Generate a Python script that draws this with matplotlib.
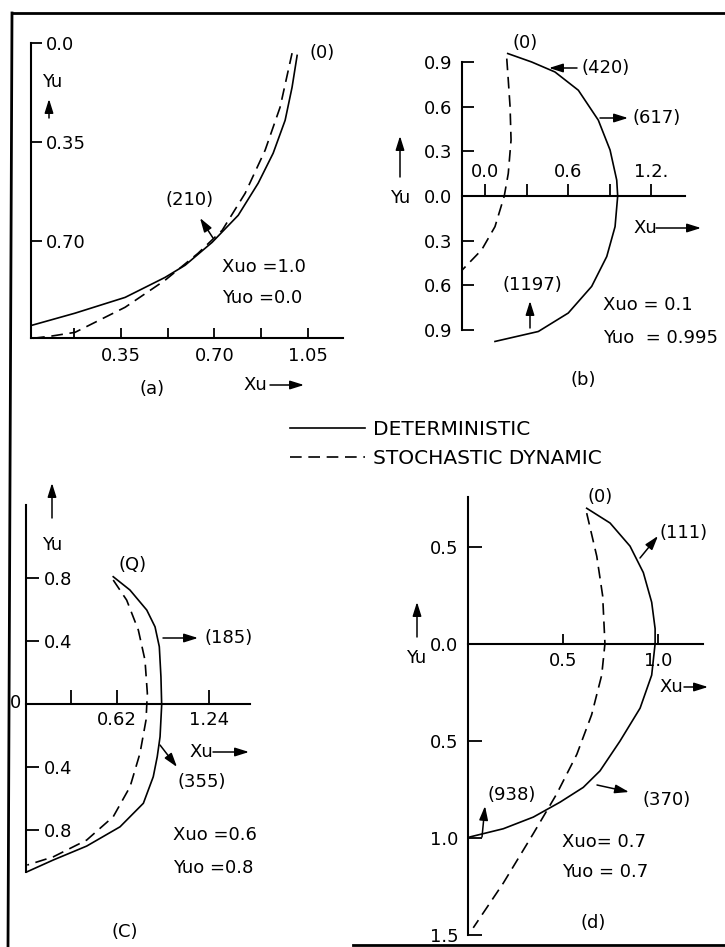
import matplotlib
matplotlib.use('Agg')
import matplotlib.pyplot as plt
from matplotlib.lines import Line2D
from matplotlib.patches import FancyArrowPatch

W, H = 725, 947

# (a)  Xuo = 1.0, Yuo = 0.0   (Yu drawn downward, stored negative)
a_det_x = [0.015, 0.177, 0.365, 0.515, 0.590, 0.691, 0.789, 0.864, 0.920, 0.965, 0.991, 1.010]
a_det_y = [-1.000, -0.957, -0.901, -0.830, -0.787, -0.706, -0.610, -0.496, -0.390, -0.273, -0.156, -0.043]
a_sto_x = [0.020, 0.090, 0.177, 0.365, 0.515, 0.638, 0.729, 0.815, 0.890, 0.946, 0.991]
a_sto_y = [-1.046, -1.038, -1.025, -0.936, -0.840, -0.745, -0.663, -0.532, -0.379, -0.227, -0.035]
a_xticks = [0.175, 0.35, 0.525, 0.70, 0.875, 1.05]
a_xlabels = ['', '0.35', '', '0.70', '', '1.05']
a_yticks = [0.0, -0.35, -0.70]
a_ylabels = ['0.0', '0.35', '0.70']

# (b)  Xuo = 0.1, Yuo = 0.995
b_det_x = [0.164, 0.337, 0.505, 0.674, 0.818, 0.903, 0.951, 0.958, 0.939, 0.879, 0.770, 0.601, 0.385, 0.072]
b_det_y = [0.958, 0.901, 0.834, 0.711, 0.510, 0.309, 0.107, 0.0, -0.206, -0.407, -0.608, -0.787, -0.911, -0.978]
b_sto_x = [0.157, 0.168, 0.181, 0.188, 0.168, 0.139, 0.072, -0.024, -0.164]
b_sto_y = [0.924, 0.779, 0.599, 0.376, 0.152, 0.0, -0.206, -0.362, -0.497]
b_xticks = [0.0, 0.3, 0.6, 0.9, 1.2]
b_xlabels = ['0.0', '', '0.6', '', '1.2.']
b_yticks = [0.9, 0.6, 0.3, 0.0, -0.3, -0.6, -0.9]
b_ylabels = ['0.9', '0.6', '0.3', '0.0', '0.3', '0.6', '0.9']

# (c)  Xuo = 0.6, Yuo = 0.8
c_det_x = [0.594, 0.707, 0.821, 0.877, 0.906, 0.917, 0.922, 0.911, 0.892, 0.865, 0.798, 0.640, 0.414, 0.188, 0.012]
c_det_y = [0.806, 0.722, 0.595, 0.489, 0.363, 0.173, -0.006, -0.207, -0.333, -0.460, -0.628, -0.777, -0.899, -0.987, -1.061]
c_sto_x = [0.594, 0.685, 0.764, 0.809, 0.825, 0.816, 0.775, 0.708, 0.594, 0.414, 0.188, 0.012]
c_sto_y = [0.785, 0.658, 0.468, 0.278, 0.068, -0.101, -0.312, -0.523, -0.713, -0.861, -0.967, -1.019]
c_xticks = [0.31, 0.62, 1.24]
c_xlabels = ['', '0.62', '1.24']
c_yticks = [0.8, 0.4, -0.4, -0.8]
c_ylabels = ['0.8', '0.4', '0.4', '0.8']

# (d)  Xuo = 0.7, Yuo = 0.7
d_det_x = [0.623, 0.746, 0.851, 0.921, 0.965, 0.983, 0.983, 0.965, 0.904, 0.798, 0.693, 0.605, 0.483, 0.342, 0.184, 0.009]
d_det_y = [0.697, 0.621, 0.502, 0.366, 0.213, 0.077, 0.0, -0.162, -0.332, -0.502, -0.655, -0.740, -0.816, -0.893, -0.953, -0.995]
d_sto_x = [0.623, 0.676, 0.707, 0.719, 0.702, 0.649, 0.571, 0.465, 0.342, 0.184, 0.026]
d_sto_y = [0.672, 0.450, 0.246, 0.0, -0.162, -0.366, -0.570, -0.774, -0.978, -1.233, -1.463]
d_xticks = [0.5, 1.0]
d_xlabels = ['0.5', '1.0']
d_yticks = [0.5, 0.0, -0.5, -1.0, -1.5]
d_ylabels = ['0.5', '0.0', '0.5', '1.0', '1.5']

plt.rcParams['font.family'] = ['DejaVu Sans']
plt.rcParams['font.size'] = 13

fig = plt.figure(figsize=(W / 100, H / 100), dpi=100)


def pt(px):
    return px * 0.72


def panel(xlim, xpix, ylim, ypix):
    # xpix = (left, right), ypix = (bottom, top) in image pixels from top-left
    ax = fig.add_axes([xpix[0] / W, 1 - ypix[0] / H,
                       (xpix[1] - xpix[0]) / W, (ypix[0] - ypix[1]) / H])
    ax.set_xlim(xlim)
    ax.set_ylim(ylim)
    ax.patch.set_visible(False)
    for s in ax.spines.values():
        s.set_visible(False)
        s.set_linewidth(1.5)
    return ax


def curves(ax, dx, dy, sx, sy):
    d, = ax.plot(dx, dy, color='black', lw=1.2, clip_on=False, label='DETERMINISTIC')
    s, = ax.plot(sx, sy, color='black', lw=1.2, dashes=(7, 4), clip_on=False,
                 label='STOCHASTIC DYNAMIC')
    return d, s


def txt(x, y, s, **kw):
    kw.setdefault('ha', 'center')
    kw.setdefault('va', 'center')
    fig.text(x / W, 1 - y / H, s, **kw)


def arrow(x0, y0, x1, y1):
    fig.add_artist(FancyArrowPatch((x0 / W, 1 - y0 / H), (x1 / W, 1 - y1 / H),
                                   transform=fig.transFigure,
                                   arrowstyle='-|>,head_length=0.7,head_width=0.22',
                                   mutation_scale=12, lw=1.1, color='black',
                                   shrinkA=0, shrinkB=0))


# ---------------- (a)
ax = panel((0.012, 1.182), (31, 343), (-1.045, 0.001), (338, 43))
ax.spines['left'].set_visible(True)
ax.spines['bottom'].set_visible(True)
h_det, h_sto = curves(ax, a_det_x, a_det_y, a_sto_x, a_sto_y)
ax.set_xticks(a_xticks, a_xlabels)
ax.set_yticks(a_yticks, a_ylabels)
ax.tick_params(direction='in', width=1.3)
ax.tick_params(axis='x', length=pt(10), pad=pt(9))
ax.tick_params(axis='y', length=pt(11), pad=-pt(15))
for lab in ax.get_yticklabels():
    lab.set_ha('left')

txt(322, 53, '(0)')
txt(190, 200, '(210)')
arrow(213, 238, 200, 218)
txt(222, 267, 'Xuo =1.0', ha='left')
txt(222, 298, 'Yuo =0.0', ha='left')
txt(52, 82, 'Yu')
arrow(49, 118, 49, 99)
txt(255, 385, 'Xu')
arrow(270, 385, 304, 385)
txt(152, 389, '(a)')

# ---------------- (b)
ax = panel((-0.164, 1.444), (462.3, 685), (-0.901, 0.901), (330, 62))
ax.spines['left'].set_visible(True)
ax.spines['top'].set_visible(True)
ax.spines['top'].set_position(('data', 0))
curves(ax, b_det_x, b_det_y, b_sto_x, b_sto_y)
ax.xaxis.set_ticks_position('top')
ax.set_xticks(b_xticks, b_xlabels)
ax.set_yticks(b_yticks, b_ylabels)
ax.tick_params(width=1.3)
ax.tick_params(axis='x', direction='out', length=pt(12), pad=pt(3))
ax.tick_params(axis='y', direction='in', length=pt(12), pad=pt(10))

txt(525, 43, '(0)')
txt(606, 68, '(420)')
arrow(577, 68, 549, 68)
txt(657, 118, '(617)')
arrow(600, 118, 628, 118)
txt(532, 285, '(1197)')
arrow(530, 328, 530, 301)
txt(603, 305, 'Xuo = 0.1', ha='left')
txt(603, 338, 'Yuo  = 0.995', ha='left')
txt(400, 198, 'Yu')
arrow(400, 177, 400, 136)
txt(645, 228, 'Xu')
arrow(656, 228, 701, 228)
txt(583, 380, '(b)')

# ---------------- (c)
ax = panel((0.0, 1.52), (25.5, 250), (-1.063, 1.26), (872, 505))
ax.spines['left'].set_visible(True)
ax.spines['bottom'].set_visible(True)
ax.spines['bottom'].set_position(('data', 0))
curves(ax, c_det_x, c_det_y, c_sto_x, c_sto_y)
ax.set_xticks(c_xticks, c_xlabels)
ax.set_yticks(c_yticks, c_ylabels)
ax.tick_params(direction='in', width=1.3)
ax.tick_params(axis='x', length=pt(14), pad=pt(7))
ax.tick_params(axis='y', length=pt(13), pad=-pt(18))
for lab in ax.get_yticklabels():
    lab.set_ha('left')

txt(16, 703, '0')
txt(133, 565, '(Q)')
txt(229, 638, '(185)')
arrow(163, 638, 198, 638)
txt(202, 782, '(355)')
arrow(160, 745, 177, 767)
txt(201, 752, 'Xu')
arrow(213, 752, 249, 752)
txt(173, 835, 'Xuo =0.6', ha='left')
txt(173, 868, 'Yuo =0.8', ha='left')
txt(52, 545, 'Yu')
arrow(52, 518, 52, 483)
txt(125, 932, '(C)')

# ---------------- (d)
ax = panel((0.0, 1.235), (468.3, 703), (-1.5, 0.755), (935, 497))
ax.spines['left'].set_visible(True)
ax.spines['bottom'].set_visible(True)
ax.spines['bottom'].set_position(('data', 0))
curves(ax, d_det_x, d_det_y, d_sto_x, d_sto_y)
ax.set_xticks(d_xticks, d_xlabels)
ax.set_yticks(d_yticks, d_ylabels)
ax.tick_params(direction='in', width=1.3)
ax.tick_params(axis='x', length=pt(10), pad=pt(8))
ax.tick_params(axis='y', length=pt(14), pad=pt(10))

txt(600, 497, '(0)')
txt(684, 533, '(111)')
arrow(640, 558, 658, 536)
txt(667, 800, '(370)')
arrow(597, 785, 629, 792)
txt(512, 795, '(938)')
arrow(482, 837, 485, 806)
txt(562, 842, 'Xuo= 0.7', ha='left')
txt(562, 872, 'Yuo = 0.7', ha='left')
txt(416, 658, 'Yu')
arrow(417, 637, 417, 602)
txt(671, 687, 'Xu')
arrow(684, 687, 708, 687)
txt(593, 923, '(d)')

# legend between the panels
fig.legend(handles=[h_det, h_sto], loc='upper left',
           bbox_to_anchor=(290 / W, 1 - 420 / H), frameon=False, fontsize=14.5,
           handlelength=3.7, handletextpad=0.4, labelspacing=0.5,
           borderpad=0, borderaxespad=0)

# frame of the scanned figure
for xs, ys in [((12, 725), (13, 13)), ((12, 8), (13, 947)), ((353, 725), (945, 945))]:
    fig.add_artist(Line2D([x / W for x in xs], [1 - y / H for y in ys],
                          transform=fig.transFigure, color='black', lw=2.0))

fig.savefig('out.png', dpi=100)
